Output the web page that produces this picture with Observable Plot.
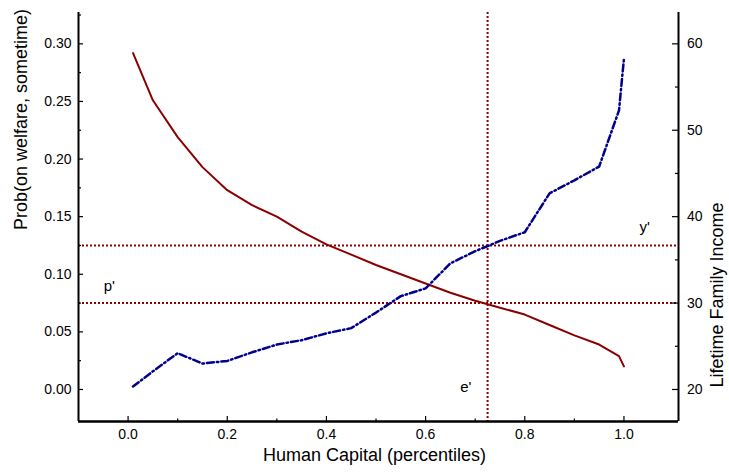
<!DOCTYPE html>
<html>
<head>
<meta charset="utf-8">
<script src="https://cdn.jsdelivr.net/npm/d3@7"></script>
<script src="https://cdn.jsdelivr.net/npm/@observablehq/plot@0.6"></script>
<style>
  html, body { margin: 0; padding: 0; background: #fff; }
  #chart { width: 729px; height: 475px; }
</style>
</head>
<body>
<div id="chart"></div>
<script>
// ---- data ----
const capital = [0.01, 0.05, 0.10, 0.15, 0.20, 0.25, 0.30, 0.35, 0.40, 0.45, 0.50, 0.55, 0.60, 0.65, 0.70, 0.75, 0.80, 0.85, 0.90, 0.95, 0.99, 1.00];
const probWelfare = [0.292, 0.251, 0.219, 0.193, 0.173, 0.160, 0.150, 0.137, 0.126, 0.117, 0.108, 0.100, 0.092, 0.084, 0.077, 0.071, 0.065, 0.056, 0.047, 0.039, 0.029, 0.020];
const familyIncome = [20.35, 22.1, 24.2, 23.0, 23.3, 24.3, 25.2, 25.7, 26.5, 27.1, 28.9, 30.8, 31.7, 34.6, 36.0, 37.2, 38.2, 42.7, 44.2, 45.8, 52.3, 58.3];

const xMajorTicks = [0, 0.2, 0.4, 0.6, 0.8, 1.0];
const xMinorTicks = [0.1, 0.3, 0.5, 0.7, 0.9];
const probMajorTicks = [0, 0.05, 0.10, 0.15, 0.20, 0.25, 0.30];
const probMinorTicks = [0.025, 0.075, 0.125, 0.175, 0.225, 0.275, 0.325];
const incomeMajorTicks = [20, 30, 40, 50, 60];
const incomeMinorTicks = [25, 35, 45, 55];

const refProb = [0.075, 0.125];   // p', and y' level
const refCapital = [0.725];       // e'
const annotationText = ["p'", "y'", "e'"];
const annotationX = [-0.038, 1.042, 0.681];
const annotationY = [0.090, 0.1406, 0.0017];

const xDomain = [-0.1, 1.11];
const yDomain = [-0.0278, 0.3272];
// right axis (income) mapped onto left axis (probability) scale
const incomeToProb = v => (v - 20) * 0.3 / 40;

const probRows = capital.map((x, i) => ({x, y: probWelfare[i]}));
const incomeRows = capital.map((x, i) => ({x, y: incomeToProb(familyIncome[i])}));
const annotations = annotationText.map((t, i) => ({t, x: annotationX[i], y: annotationY[i]}));

const RED = "#8b0000";
const BLUE = "#00008b";
const W = 729, H = 475, ML = 78, MR = 51, MT = 12, MB = 54;
const FW = W - ML - MR, FH = H - MT - MB;

const chart = Plot.plot({
  width: W, height: H,
  marginLeft: ML, marginRight: MR, marginTop: MT, marginBottom: MB,
  x: {domain: xDomain, axis: null},
  y: {domain: yDomain, axis: null},
  style: {fontFamily: "'Liberation Sans', Arial, sans-serif", background: "white", color: "black"},
  marks: [
    // reference dotted lines
    Plot.ruleY(refProb, {stroke: RED, strokeWidth: 2, strokeDasharray: "2,2"}),
    Plot.ruleX(refCapital, {stroke: RED, strokeWidth: 2, strokeDasharray: "2,2"}),
    // series
    Plot.line(probRows, {x: "x", y: "y", stroke: RED, strokeWidth: 2}),
    Plot.line(incomeRows, {x: "x", y: "y", stroke: BLUE, strokeWidth: 2.5, strokeDasharray: "7,3,1.5,3"}),
    // annotations
    Plot.text(annotations, {x: "x", y: "y", text: "t", fontSize: 15, fill: "black"}),
    // axis lines
    Plot.ruleX([xDomain[0], xDomain[1]], {stroke: "black", strokeWidth: 2}),
    Plot.ruleY([yDomain[0]], {stroke: "black", strokeWidth: 2.5}),
    // left ticks (inward)
    Plot.tickY(probMajorTicks, {y: d => d, insetRight: FW - 5, stroke: "black", strokeWidth: 1.2}),
    Plot.tickY(probMinorTicks, {y: d => d, insetRight: FW - 3, stroke: "black", strokeWidth: 1.2}),
    // right ticks (inward)
    Plot.tickY(incomeMajorTicks, {y: d => incomeToProb(d), insetLeft: FW - 6, stroke: "black", strokeWidth: 1.2}),
    Plot.tickY(incomeMinorTicks, {y: d => incomeToProb(d), insetLeft: FW - 3, stroke: "black", strokeWidth: 1.2}),
    // bottom ticks (inward)
    Plot.tickX(xMajorTicks, {x: d => d, insetTop: FH - 5, stroke: "black", strokeWidth: 1.2}),
    Plot.tickX(xMinorTicks, {x: d => d, insetTop: FH - 2.5, stroke: "black", strokeWidth: 1.2}),
    // tick labels
    Plot.text(probMajorTicks, {y: d => d, text: d => d3.format(".2f")(d), frameAnchor: "left", dx: -7, textAnchor: "end", fontSize: 14, fill: "black"}),
    Plot.text(incomeMajorTicks, {y: d => incomeToProb(d), text: d => String(d), frameAnchor: "right", dx: 8.5, textAnchor: "start", fontSize: 14, fill: "black"}),
    Plot.text(xMajorTicks, {x: d => d, text: d => d3.format(".1f")(d), frameAnchor: "bottom", dy: 17, fontSize: 14, fill: "black"}),
    // axis titles
    Plot.text(["Prob(on welfare, sometime)"], {text: d => d, frameAnchor: "left", dx: -57.5, dy: 13, rotate: -90, fontSize: 18, fill: "black", ariaLabel: "axis-title"}),
    Plot.text(["Lifetime Family Income"], {text: d => d, frameAnchor: "right", dx: 39, dy: -14.5, rotate: -90, fontSize: 18, fill: "black", ariaLabel: "axis-title"}),
    Plot.text(["Human Capital (percentiles)"], {text: d => d, frameAnchor: "bottom", dx: -4, dy: 39, fontSize: 18, fill: "black", ariaLabel: "axis-title"})
  ]
});

d3.select(chart).selectAll("g[aria-label='axis-title'] text").attr("letter-spacing", "0.2px");
document.getElementById("chart").appendChild(chart);
</script>
</body>
</html>
